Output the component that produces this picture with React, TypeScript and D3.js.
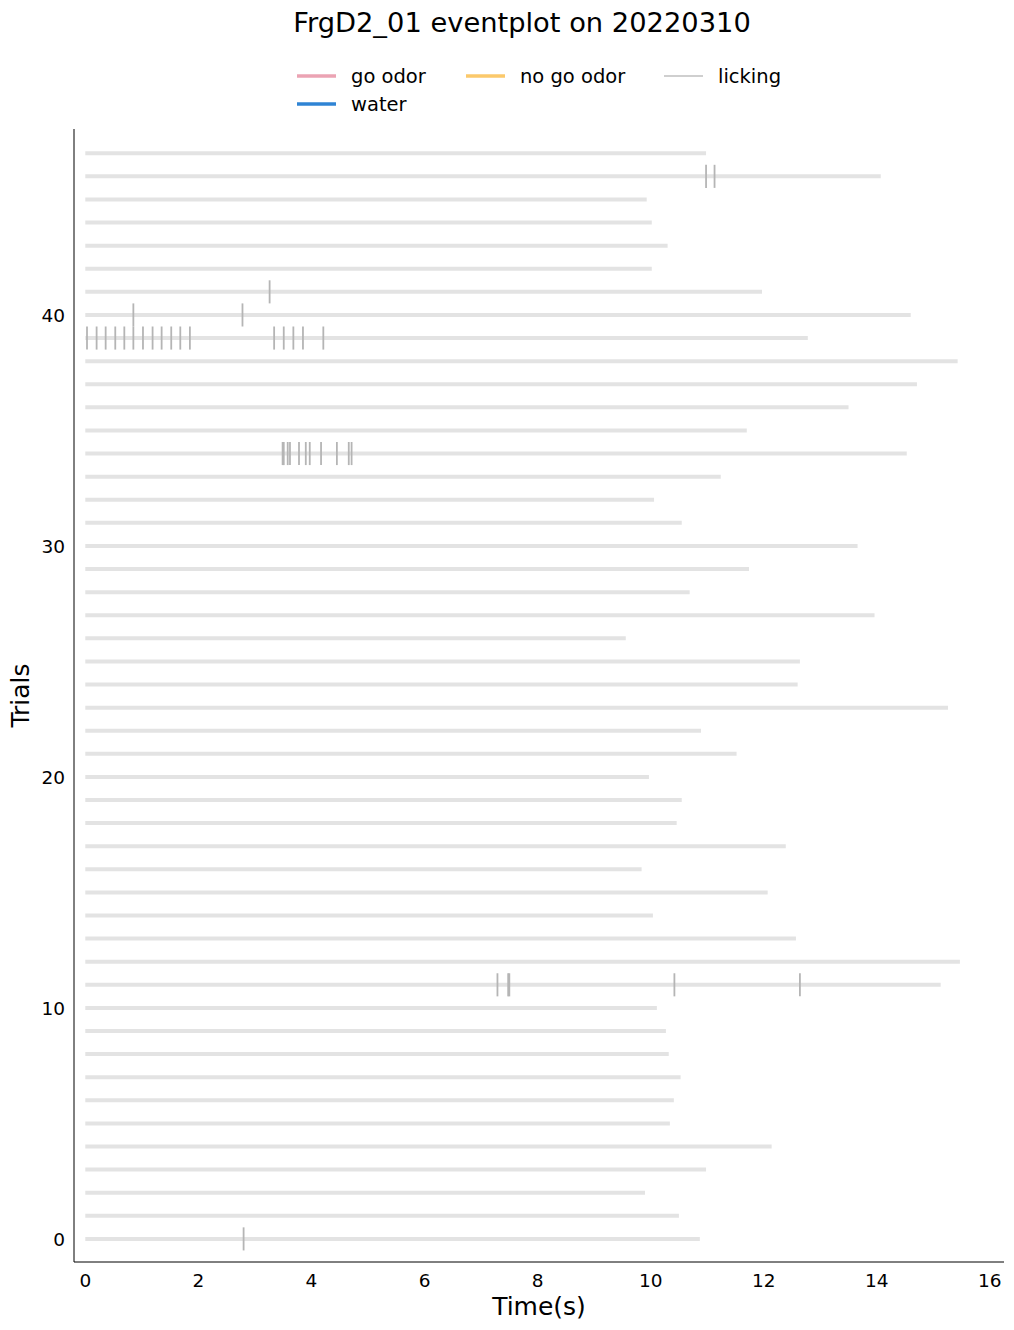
import React from "react";
import * as d3 from "d3";

// trial end times (s), trial 0 first
const trialEnds = [
  10.87, 10.5, 9.9, 10.98, 12.14, 10.34, 10.41, 10.53, 10.32, 10.27,
  10.11, 15.13, 15.47, 12.57, 10.04, 12.07, 9.84, 12.39, 10.46, 10.55,
  9.97, 11.52, 10.89, 15.26, 12.6, 12.64, 9.56, 13.96, 10.69, 11.74,
  13.66, 10.55, 10.06, 11.24, 14.53, 11.7, 13.5, 14.71, 15.43, 12.78,
  14.6, 11.97, 10.02, 10.3, 10.02, 9.93, 14.07, 10.98,
];

// lick times per trial (only trials with licks)
const lickTrials = [0, 11, 34, 39, 40, 41, 46];
const lickTimes = [
  [2.8],
  [7.29, 7.48, 7.5, 10.42, 12.64],
  [3.49, 3.51, 3.58, 3.62, 3.78, 3.9, 3.97, 4.17, 4.45, 4.66, 4.71],
  [0.03, 0.2, 0.36, 0.53, 0.69, 0.85, 1.02, 1.19, 1.35, 1.52, 1.68, 1.85, 3.34, 3.51, 3.68, 3.85, 4.21],
  [0.85, 2.78],
  [3.26],
  [10.98, 11.13],
];

const xTicks = [0, 2, 4, 6, 8, 10, 12, 14, 16];
const yTicks = [0, 10, 20, 30, 40];

const legendItems = [
  { label: "go odor", color: "#eba3b3", width: 3.5 },
  { label: "no go odor", color: "#fbc96b", width: 3.5 },
  { label: "licking", color: "#bfbfbf", width: 1.5 },
  { label: "water", color: "#2f84d4", width: 3.5 },
];

const W = 1014;
const H = 1330;
const margin = { left: 74, right: 10, top: 129, bottom: 68 };

export default function App() {
  const x = d3
    .scaleLinear()
    .domain([-0.2, 16.25])
    .range([margin.left, W - margin.right]);
  const y = d3
    .scaleLinear()
    .domain([-1, 48.05])
    .range([H - margin.bottom, margin.top]);
  const unit = Math.abs(y(1) - y(0));

  // legend layout: 3 columns, items fill row-wise
  const colX = [297, 466, 664];
  const rowY = [76, 104];

  return (
    <svg
      width={W}
      height={H}
      style={{ position: "absolute", left: 0, top: 0, fontFamily: "DejaVu Sans" }}
    >
      <rect width={W} height={H} fill="#fff" />
      <text x={522} y={32} textAnchor="middle" fontSize={27.3}>
        FrgD2_01 eventplot on 20220310
      </text>

      {legendItems.map((d, i) => {
        const cx = colX[i % 3];
        const cy = rowY[Math.floor(i / 3)];
        return (
          <g key={d.label}>
            <line x1={cx} x2={cx + 39} y1={cy} y2={cy} stroke={d.color} strokeWidth={d.width} />
            <text x={cx + 54} y={cy + 7} fontSize={19.5}>
              {d.label}
            </text>
          </g>
        );
      })}

      {/* trial spans */}
      {trialEnds.map((end, i) => (
        <line
          key={"t" + i}
          x1={x(0)}
          x2={x(end)}
          y1={y(i)}
          y2={y(i)}
          stroke="#e3e3e3"
          strokeWidth={4}
        />
      ))}

      {/* licks */}
      {lickTrials.map((t, k) =>
        lickTimes[k].map((lt, j) => (
          <line
            key={`l${t}-${j}`}
            x1={x(lt)}
            x2={x(lt)}
            y1={y(t) - unit / 2}
            y2={y(t) + unit / 2}
            stroke="#b5b5b5"
            strokeWidth={1.8}
          />
        ))
      )}

      {/* spines */}
      <line x1={margin.left} x2={margin.left} y1={margin.top} y2={H - margin.bottom} stroke="#000" strokeWidth={1} />
      <line x1={margin.left} x2={W - margin.right} y1={H - margin.bottom} y2={H - margin.bottom} stroke="#000" strokeWidth={1} />

      {xTicks.map((t) => (
        <text key={"xt" + t} x={x(t)} y={H - margin.bottom + 25} textAnchor="middle" fontSize={18.5}>
          {t}
        </text>
      ))}
      {yTicks.map((t) => (
        <text key={"yt" + t} x={margin.left - 9} y={y(t) + 7} textAnchor="end" fontSize={18.5}>
          {t}
        </text>
      ))}

      <text x={539} y={1315} textAnchor="middle" fontSize={25}>
        Time(s)
      </text>
      <text
        transform={`translate(29, ${(margin.top + H - margin.bottom) / 2}) rotate(-90)`}
        textAnchor="middle"
        fontSize={25}
      >
        Trials
      </text>
    </svg>
  );
}
